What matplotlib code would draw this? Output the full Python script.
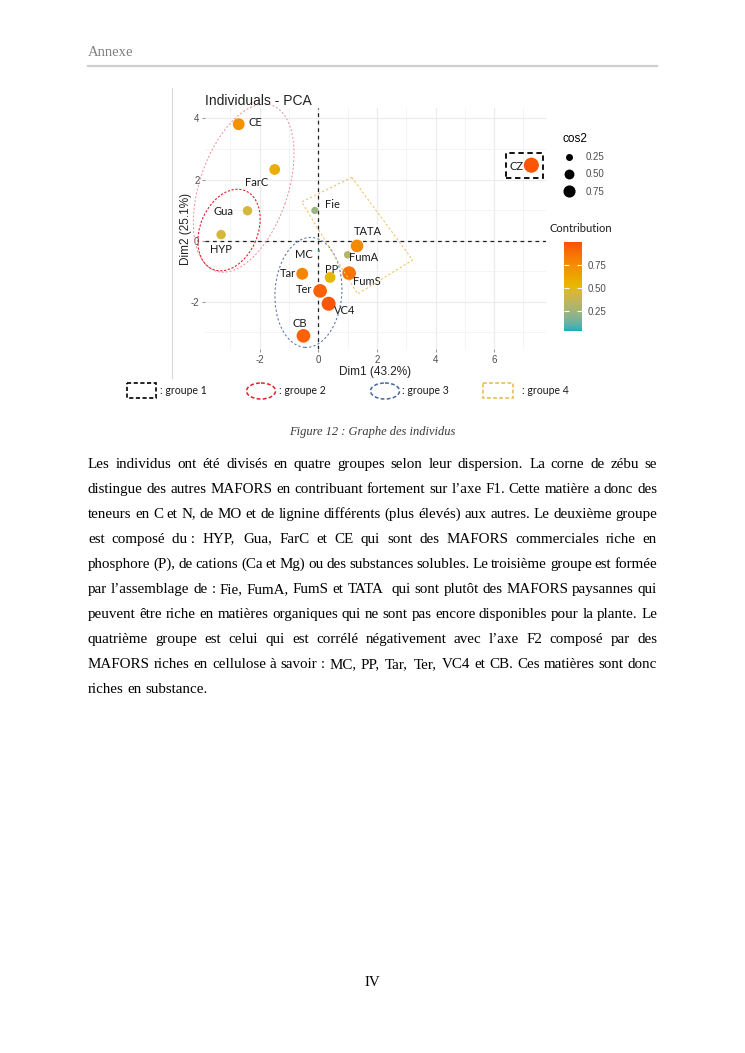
import numpy as np
import matplotlib.pyplot as plt
from matplotlib.patches import Ellipse, Polygon, Rectangle
from matplotlib.colors import ListedColormap, Normalize, to_rgb
from matplotlib.cm import ScalarMappable
from matplotlib.lines import Line2D
from matplotlib.transforms import Affine2D
from matplotlib.font_manager import FontProperties, findfont
from matplotlib.ft2font import FT2Font

plt.rcParams['font.family'] = ['Liberation Sans', 'DejaVu Sans']
plt.rcParams['axes.unicode_minus'] = False

# donnees (ACP des individus)
individus = ['CE', 'FarC', 'Gua', 'HYP', 'Fie', 'TATA', 'FumA', 'MC',
             'Tar', 'PP', 'FumS', 'Ter', 'VC4', 'CB', 'CZ']
dim1 = [-2.72, -1.49, -2.42, -3.32, -0.12, 1.32, 1.00, 0.02,
        -0.55, 0.40, 1.05, 0.06, 0.35, -0.51, 7.27]
dim2 = [3.81, 2.33, 0.98, 0.20, 0.99, -0.17, -0.46, -0.33,
        -1.08, -1.20, -1.06, -1.64, -2.06, -3.11, 2.47]
cos2 = [0.62, 0.51, 0.39, 0.39, 0.23, 0.70, 0.25, 0.02,
        0.62, 0.51, 0.82, 0.82, 0.86, 0.82, 1.00]
contrib = [0.72, 0.58, 0.44, 0.44, 0.24, 0.76, 0.32, 0.05,
           0.78, 0.52, 0.85, 0.93, 0.97, 0.93, 0.97]
cos2_legende = [0.25, 0.50, 0.75]
contrib_ticks = [0.25, 0.50, 0.75]
groupes = [': groupe 1', ': groupe 2', ': groupe 3', ': groupe 4']

# decalage des etiquettes (pixels)
decal = {'CE': (17, 2), 'FarC': (-18, -13), 'Gua': (-24, -1), 'HYP': (0, -15),
         'Fie': (18, 6), 'TATA': (11, 14), 'FumA': (16, -3), 'MC': (-15, -4),
         'Tar': (-14, 0), 'PP': (2, 8), 'FumS': (18, -8), 'Ter': (-16, 1),
         'VC4': (16, -7), 'CB': (-4, 12), 'CZ': (-15, -1)}

texte = [
    "Les individus ont été divisés en quatre groupes selon leur dispersion. La corne de zébu se",
    "distingue des autres MAFORS en contribuant fortement sur l’axe F1. Cette matière a donc des",
    "teneurs en C et N, de MO et de lignine différents (plus élevés) aux autres. Le deuxième groupe",
    "est composé du\u00a0: HYP, Gua, FarC et CE qui sont des MAFORS commerciales riche en",
    "phosphore (P), de cations (Ca et Mg) ou des substances solubles. Le troisième groupe est formée",
    "par l’assemblage de : Fie, FumA, FumS et TATA qui sont plutôt des MAFORS paysannes qui",
    "peuvent être riche en matières organiques qui ne sont pas encore disponibles pour la plante. Le",
    "quatrième groupe est celui qui est corrélé négativement avec l’axe F2 composé par des",
    "MAFORS riches en cellulose à savoir : MC, PP, Tar, Ter, VC4 et CB. Ces matières sont donc",
    "riches en substance.",
]


# degrade interpole dans l'espace Lab (comme ggplot)
M = np.array([[0.4124, 0.3576, 0.1805], [0.2126, 0.7152, 0.0722], [0.0193, 0.1192, 0.9505]])
BLANC = np.array([0.95047, 1.0, 1.08883])


def to_lab(c):
    c = np.array(to_rgb(c))
    lin = np.where(c <= 0.04045, c / 12.92, ((c + 0.055) / 1.055) ** 2.4)
    xyz = M @ lin / BLANC
    f = np.where(xyz > 0.008856, np.cbrt(xyz), 7.787 * xyz + 16 / 116)
    return np.array([116 * f[1] - 16, 500 * (f[0] - f[1]), 200 * (f[1] - f[2])])


def from_lab(lab):
    fy = (lab[:, 0] + 16) / 116
    fx = fy + lab[:, 1] / 500
    fz = fy - lab[:, 2] / 200
    f = np.stack([fx, fy, fz], axis=1)
    xyz = np.where(f ** 3 > 0.008856, f ** 3, (f - 16 / 116) / 7.787) * BLANC
    lin = xyz @ np.linalg.inv(M).T
    lin = np.clip(lin, 0, 1)
    rgb = np.where(lin <= 0.0031308, 12.92 * lin, 1.055 * lin ** (1 / 2.4) - 0.055)
    return np.clip(rgb, 0, 1)


couleurs = [to_lab(c) for c in ['#00AFBB', '#E7B800', '#FC4E07']]
t = np.linspace(0, 1, 256)
lab = np.array([couleurs[0] + (couleurs[1] - couleurs[0]) * 2 * v if v < 0.5
                else couleurs[1] + (couleurs[2] - couleurs[1]) * (2 * v - 1) for v in t])
cmap = ListedColormap(from_lab(lab))
norm = Normalize(0.04, 1.0)

W, H = 745, 1053
fig = plt.figure(figsize=(W / 100, H / 100), dpi=100)
px = Affine2D().scale(1 / W, -1 / H).translate(0, 1) + fig.transFigure


def ptext(x, y, s, **kw):
    return fig.text(x / W, 1 - y / H, s, **kw)


# en-tete
ptext(88, 52, 'Annexe', family='Liberation Serif', size=10.5, color='#808080', va='center')
fig.add_artist(Line2D([88, 657], [66, 66], transform=px, color='#cfcfcf', lw=1.6))
fig.add_artist(Line2D([172, 172], [88, 378], transform=px, color='#d9d9d9', lw=0.8))

# graphe
ax = fig.add_axes([205 / W, 1 - 349 / H, (546 - 205) / W, (349 - 108) / H])
ax.set_xlim(-3.87, 7.77)
ax.set_ylim(-3.54, 4.34)
ax.set_xticks([-2, 0, 2, 4, 6])
ax.set_yticks([-2, 0, 2, 4])
ax.set_xticks(np.arange(-3, 8, 2), minor=True)
ax.set_yticks(np.arange(-3, 5, 2), minor=True)
ax.grid(which='major', color='#ebebeb', lw=0.8)
ax.grid(which='minor', color='#f2f2f2', lw=0.6)
ax.tick_params(which='minor', length=0)
ax.tick_params(which='major', labelsize=7, labelcolor='#4d4d4d', color='#9a9a9a',
               length=2, width=0.8, pad=2)
for sp in ax.spines.values():
    sp.set_visible(False)
ax.set_axisbelow(True)
ax.axhline(0, color='#222222', ls=(0, (3, 3)), lw=0.9, zorder=1)
ax.axvline(0, color='#222222', ls=(0, (3, 3)), lw=0.9, zorder=1)

ax.scatter(dim1, dim2, s=118 * np.array(cos2), c=contrib, cmap=cmap, norm=norm,
           zorder=3, linewidths=0)
for nom, x, y in zip(individus, dim1, dim2):
    ax.annotate(nom, (x, y), xytext=decal[nom], textcoords='offset pixels',
                ha='center', va='center', fontsize=8, family=['Lato', 'DejaVu Sans'],
                color='#1a1a1a', zorder=4)

ax.set_xlabel('Dim1 (43.2%)', fontsize=8.5, color='#222222', labelpad=1)
ax.set_ylabel('Dim2 (25.1%)', fontsize=8.5, color='#222222', labelpad=-1)
ptext(205, 101, 'Individuals - PCA', fontsize=10, color='#222222', va='center')

# groupes dessines a la main
formes = [
    Ellipse((-2.55, 1.72), 5.75, 3.0, angle=70, fill=False,
            ec='#f08a9a', lw=0.7, ls=(0, (2, 2))),
    Ellipse((-3.05, 0.35), 2.8, 1.95, angle=65, fill=False,
            ec='#e0202a', lw=0.8, ls=(0, (2, 1.5))),
    Ellipse((-0.34, -1.69), 2.28, 3.6, angle=-4, fill=False,
            ec='#5b7bab', lw=0.8, ls=(0, (2, 2))),
    Polygon([(1.14, 2.07), (3.22, -0.63), (1.34, -1.74), (-0.57, 1.27)],
            closed=True, fill=False, ec='#efc46a', lw=0.8, ls=(0, (2, 2))),
    Rectangle((6.41, 2.05), 1.26, 0.82, fill=False, ec='black',
              lw=1.3, ls=(0, (3, 2))),
]
for f in formes:
    f.set_zorder(5)
    f.set_clip_on(False)
    ax.add_patch(f)

# legende cos2
poignees = [Line2D([], [], marker='o', ls='', color='black', markeredgewidth=0,
                   markersize=10.08 * np.sqrt(v)) for v in cos2_legende]
leg = fig.legend(poignees, [f'{v:.2f}' for v in cos2_legende], title='cos2',
                 loc='upper left', bbox_to_anchor=(556 / W, 1 - 126 / H),
                 frameon=False, fontsize=7, title_fontsize=8.5, handlelength=1.2,
                 handletextpad=1.1, labelspacing=0.75, borderpad=0.2)
leg._legend_box.align = 'left'
for tx in leg.get_texts():
    tx.set_color('#4d4d4d')

# legende contribution
cax = fig.add_axes([564 / W, 1 - 331 / H, 18 / W, 89.3 / H])
cb = fig.colorbar(ScalarMappable(norm=norm, cmap=cmap), cax=cax, ticks=contrib_ticks)
cb.outline.set_visible(False)
cax.yaxis.set_ticks_position('both')
cax.tick_params(direction='in', length=3.5, color='white', width=0.8,
                labelsize=7, labelcolor='#4d4d4d', pad=4)
cax.set_yticklabels([f'{v:.2f}' for v in contrib_ticks])
ptext(549, 229, 'Contribution', fontsize=8, family=['Lato', 'DejaVu Sans'],
      color='#1a1a1a', va='center')

# legende des groupes sous le graphe
fig.add_artist(Rectangle((127, 383), 29, 15, transform=px, fill=False, ec='black',
                         lw=1.2, ls=(0, (2.5, 1.5))))
fig.add_artist(Ellipse((261, 391), 29, 16, transform=px, fill=False, ec='#e0202a',
                       lw=1.1, ls=(0, (2.5, 1.5))))
fig.add_artist(Ellipse((385, 391), 29, 16, transform=px, fill=False, ec='#45659a',
                       lw=1.1, ls=(0, (2.5, 1.5))))
fig.add_artist(Rectangle((483, 383), 30, 15, transform=px, fill=False, ec='#e8b84a',
                         lw=1.1, ls=(0, (2.5, 1.5))))
for x, g in zip([160, 279, 402, 522], groupes):
    ptext(x, 391, g, fontsize=7.6, family=['Lato', 'DejaVu Sans'], color='#1a1a1a', va='center')

# legende de la figure et texte
ptext(372, 432, 'Figure 12 : Graphe des individus', family='Liberation Serif',
      style='italic', size=9, color='#3a3a3a', ha='center', va='center')

# texte justifie : largeur des mots d'apres l'avance des glyphes
taille = 10.8
police = FT2Font(findfont(FontProperties(family='Liberation Serif')))
police.set_size(taille, 100)


def avance(mot):
    return sum(police.load_char(ord(ch)).linearHoriAdvance for ch in mot) / 65536


corps = dict(family='Liberation Serif', size=taille, color='black', va='baseline')
for i, ligne in enumerate(texte):
    y = 467.5 + 25.05 * i
    mots = ligne.split(' ')
    larg = [avance(m) for m in mots]
    if i == len(texte) - 1:
        ecart = avance(' ')
    else:
        ecart = (657 - 88 - sum(larg)) / (len(mots) - 1)
    x = 88
    for m, l in zip(mots, larg):
        ptext(x, y, m, **corps)
        x += l + ecart

ptext(372, 983, 'IV', family='Liberation Serif', size=taille, ha='center', va='center')

fig.savefig('out.png', dpi=100)
